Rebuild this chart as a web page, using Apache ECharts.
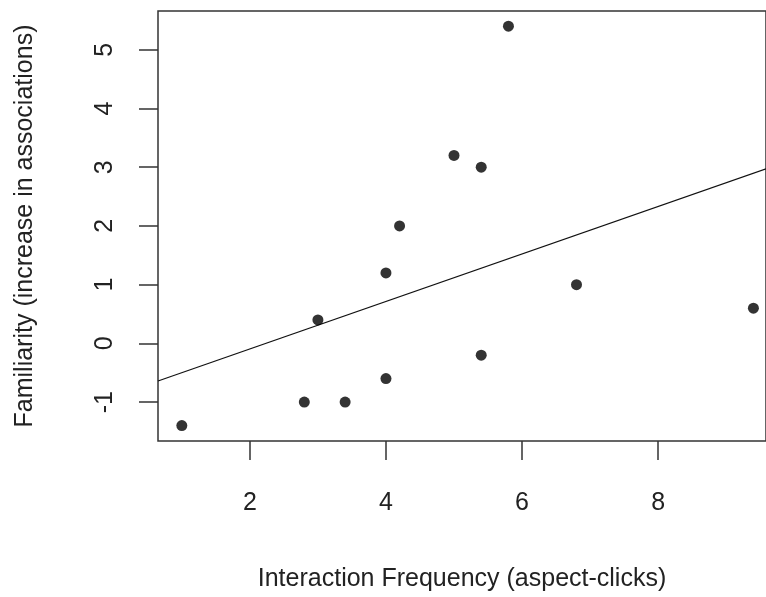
<!DOCTYPE html>
<html>
<head>
<meta charset="utf-8">
<script src="https://cdn.jsdelivr.net/npm/echarts@6/dist/echarts.min.js"></script>
<style>
html,body{margin:0;padding:0;background:#fff;}
#chart{width:766px;height:597px;}
</style>
</head>
<body>
<div id="chart"></div>
<script>
// Data
var interactionFreq = [1.0, 2.8, 3.0, 3.4, 4.0, 4.0, 4.2, 5.0, 5.4, 5.4, 5.8, 6.8, 9.4];
var familiarity     = [-1.4, -1.0, 0.4, -1.0, -0.6, 1.2, 2.0, 3.2, 3.0, -0.2, 5.4, 1.0, 0.6];
// Fitted line endpoints (at the plot edges)
var fitX = [0.65, 9.585];
var fitY = [-0.64, 2.97];
var xTicks = [2, 4, 6, 8];
var yTicks = [-1, 0, 1, 2, 3, 4, 5];
var xTitle = 'Interaction Frequency (aspect-clicks)';
var yTitle = 'Familiarity (increase in associations)';

var points = interactionFreq.map(function (x, i) { return [x, familiarity[i]]; });
var fitLine = fitX.map(function (x, i) { return [x, fitY[i]]; });

var font = 'Liberation Sans, Arial, Helvetica, sans-serif';
var textColor = '#222';
var chart = echarts.init(document.getElementById('chart'), null, {renderer: 'canvas'});
chart.setOption({
  animation: false,
  backgroundColor: '#fff',
  grid: {left: 158, top: 11, right: -1, bottom: 156, show: true, borderColor: '#333', borderWidth: 1.5, backgroundColor: 'transparent'},
  xAxis: {
    type: 'value', min: 0.65, max: 9.585,
    name: xTitle, nameLocation: 'middle', nameGap: 126,
    nameTextStyle: {color: textColor, fontSize: 25, fontFamily: font},
    axisLine: {show: false, onZero: false},
    splitLine: {show: false},
    axisTick: {show: true, inside: false, length: 19, customValues: xTicks, lineStyle: {color: '#333', width: 1.5}},
    axisLabel: {show: true, customValues: xTicks, margin: 50, color: textColor, fontSize: 25, fontFamily: font,
      formatter: function (v) { return String(v); }}
  },
  yAxis: {
    type: 'value', min: -1.662, max: 5.659,
    name: yTitle, nameLocation: 'middle', nameGap: 120,
    nameTextStyle: {color: textColor, fontSize: 25, fontFamily: font},
    axisLine: {show: false, onZero: false},
    splitLine: {show: false},
    axisTick: {show: true, inside: false, length: 19, customValues: yTicks, lineStyle: {color: '#333', width: 1.5}},
    axisLabel: {show: true, customValues: yTicks, margin: 40, rotate: 90, color: textColor, fontSize: 25, fontFamily: font,
      formatter: function (v) { return String(v); }}
  },
  series: [
    {type: 'line', data: fitLine, symbol: 'none', lineStyle: {color: '#111', width: 1.2}, silent: true, z: 2},
    {type: 'scatter', data: points, symbol: 'circle', symbolSize: 11, itemStyle: {color: '#000'}, z: 3}
  ]
});
</script>
</body>
</html>
